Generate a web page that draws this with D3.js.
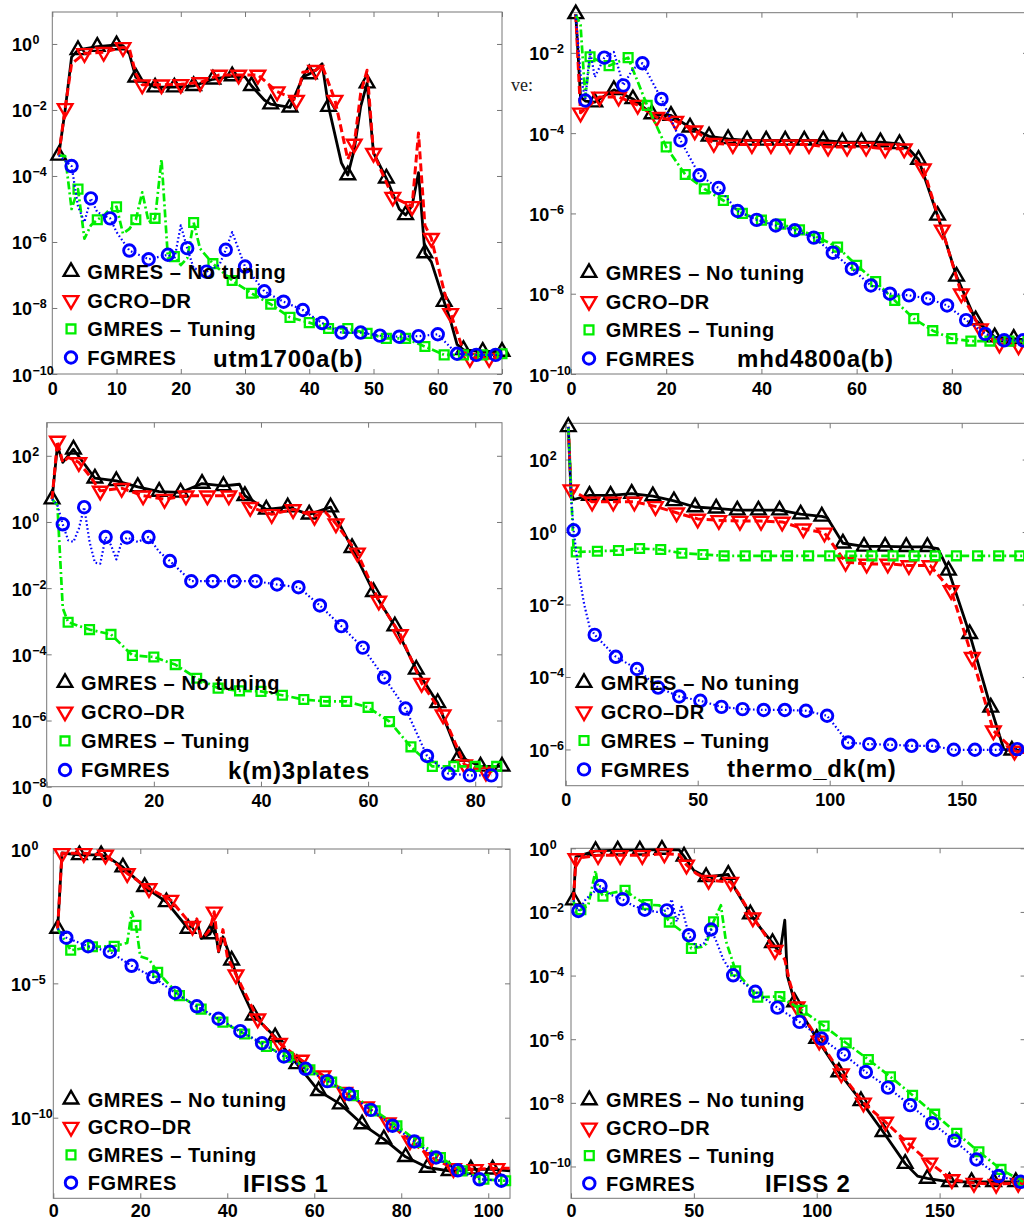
<!DOCTYPE html>
<html>
<head>
<meta charset="utf-8">
<script src="https://cdn.jsdelivr.net/npm/d3@7"></script>
<style>
  body { margin: 0; background: #fff; }
  svg { display: block; }
</style>
</head>
<body>
<svg id="chart" width="1024" height="1221"></svg>
<script>
const seriesNames = ["GMRES – No tuning", "GCRO–DR", "GMRES – Tuning", "FGMRES"];
const panelTitles = ["utm1700a(b)", "mhd4800a(b)", "k(m)3plates", "thermo_dk(m)", "IFISS 1", "IFISS 2"];

// tick values
const utmXTicks = [0, 10, 20, 30, 40, 50, 60, 70];
const mhdXTicks = [0, 20, 40, 60, 80];
const kmXTicks = [0, 20, 40, 60, 80];
const thermoXTicks = [0, 50, 100, 150];
const ifiss1XTicks = [0, 20, 40, 60, 80, 100];
const ifiss2XTicks = [0, 50, 100, 150];
const utmYTicks = [1, 1e-2, 1e-4, 1e-6, 1e-8, 1e-10];
const mhdYTicks = [1e-2, 1e-4, 1e-6, 1e-8, 1e-10];
const kmYTicks = [1e2, 1, 1e-2, 1e-4, 1e-6, 1e-8];
const thermoYTicks = [1e2, 1, 1e-2, 1e-4, 1e-6];
const ifiss1YTicks = [1, 1e-5, 1e-10];
const ifiss2YTicks = [1, 1e-2, 1e-4, 1e-6, 1e-8, 1e-10];

// utm1700a(b)  [iteration, residual]
const utmNoTune = [[1,4.2e-4],[2,1e-2],[3,0.4],[4,0.66],[7,0.83],[10,0.93],[11,0.89],[12,0.5],[13,0.098],[16,0.049],[19,0.049],[22,0.054],[25,0.085],[28,0.107],[30,0.1],[31,0.054],[33,0.02],[34,0.015],[37,0.012],[39,0.1],[40,0.123],[41,0.16],[42,0.25],[43,0.0126],[45,2.5e-4],[46,1.07e-4],[47,6.3e-4],[48,0.0126],[49,0.065],[50,5e-4],[52,8.5e-5],[54,1e-5],[55,6.6e-6],[56,1.26e-5],[57,1.26e-4],[58,4.6e-7],[59,2.5e-7],[61,1.55e-8],[62,4e-9],[63,7.9e-10],[64,5.4e-10],[67,4.8e-10],[70,4.8e-10]];
const utmGcro = [[1,4.2e-4],[2,0.0112],[3,0.25],[5,0.52],[8,0.56],[11,0.79],[12,0.71],[13,0.126],[14,0.058],[17,0.058],[20,0.06],[23,0.068],[26,0.115],[29,0.115],[32,0.115],[35,0.036],[38,0.02],[39,0.14],[41,0.16],[42,0.22],[44,0.02],[46,3.2e-4],[47,9.3e-4],[48,0.032],[49,0.16],[50,4.9e-4],[53,2.3e-5],[56,1.2e-5],[57,2e-3],[58,3.2e-6],[59,1.3e-6],[61,3.2e-8],[62,6.9e-9],[64,5e-10],[65,3e-10],[68,3e-10],[70,3.2e-10]];
const utmTune = [[1,4.2e-4],[2,4e-4],[3,1e-5],[4,4e-5],[5,1.26e-6],[6,3.2e-6],[7,4.7e-6],[8,6.3e-6],[9,1e-5],[10,1.17e-5],[11,1.8e-6],[12,2.5e-6],[13,4.7e-6],[14,3.2e-5],[15,4e-6],[16,5.2e-6],[17,3.2e-4],[18,3.2e-7],[19,3.6e-7],[20,2e-7],[21,3.2e-7],[22,3.9e-6],[23,6.3e-7],[25,2.2e-7],[28,6.8e-8],[31,2.8e-8],[34,1.3e-8],[37,5.2e-9],[40,3.6e-9],[43,2.4e-9],[46,2.4e-9],[49,1.7e-9],[52,1.2e-9],[55,1.2e-9],[58,6.8e-10],[61,3.8e-10],[64,3.8e-10],[67,3.8e-10],[70,4.1e-10]];
const utmFg = [[1,4.2e-4],[3,2e-4],[4,1.2e-5],[5,4e-6],[6,2.1e-5],[7,8e-6],[9,5.2e-6],[10,2e-6],[12,5.5e-7],[15,3e-7],[18,4.1e-7],[19,3e-7],[20,3.2e-6],[21,6.5e-7],[22,1.6e-7],[24,1.26e-7],[26,2e-7],[27,5.8e-7],[28,2e-6],[30,1.8e-7],[33,3.2e-8],[36,1.55e-8],[39,8.7e-9],[42,3.5e-9],[45,1.8e-9],[48,1.8e-9],[51,1.45e-9],[54,1.35e-9],[57,1.4e-9],[60,1.6e-9],[61,1e-9],[63,4.1e-10],[66,3.8e-10],[69,3.8e-10],[70,3.8e-10]];

// mhd4800a(b)
const mhdNoTune = [[1,0.093],[2,8e-4],[3,6.3e-4],[5,5.9e-4],[9,1.2e-3],[13,7.1e-4],[17,3e-4],[21,2.75e-4],[25,1.4e-4],[29,8.3e-5],[33,7.2e-5],[37,6.6e-5],[41,6.6e-5],[45,6.6e-5],[49,6.6e-5],[53,6.6e-5],[57,6e-5],[61,6e-5],[65,6e-5],[69,5.4e-5],[71,4e-5],[73,2.2e-5],[77,8.9e-7],[81,2.7e-8],[85,2.2e-9],[89,8.3e-10],[93,7.6e-10],[96,7e-10]];
const mhdGcro = [[1,0.093],[2,3.2e-4],[6,8e-4],[10,8e-4],[14,5e-4],[18,2.5e-4],[22,2e-4],[26,1.15e-4],[30,5.6e-5],[34,5.2e-5],[38,5.2e-5],[42,5.2e-5],[46,5.2e-5],[50,5.2e-5],[54,4.5e-5],[58,4.5e-5],[62,4.5e-5],[66,4.1e-5],[70,4.1e-5],[74,1.3e-5],[78,3.9e-7],[82,1e-8],[86,1.35e-9],[90,5.6e-10],[94,5.1e-10],[96,5e-10]];
const mhdTune = [[1,0.09],[2,0.05],[3,8e-4],[4,8e-3],[8,4.8e-3],[12,7.6e-3],[16,4.9e-4],[20,4.5e-5],[24,9.3e-6],[28,4.1e-6],[32,2.1e-6],[36,1e-6],[40,6.8e-7],[44,5.4e-7],[48,3.9e-7],[52,2.5e-7],[56,1.45e-7],[60,5.1e-8],[64,2e-8],[68,6.8e-9],[72,2.4e-9],[76,1.2e-9],[80,7.6e-10],[84,6.6e-10],[88,6.6e-10],[92,6.6e-10],[96,6.6e-10]];
const mhdFg = [[1,0.09],[2,3e-3],[3,6.5e-4],[4,0.0115],[5,2.5e-3],[7,7.6e-3],[9,0.0105],[11,1.55e-3],[13,4e-3],[15,5.5e-3],[19,7.1e-4],[23,6.6e-5],[27,8.9e-6],[31,4.3e-6],[35,1.15e-6],[39,6.9e-7],[43,5e-7],[47,3.8e-7],[51,2.5e-7],[55,1.05e-7],[59,4.2e-8],[63,1.6e-8],[67,1e-8],[71,9.1e-9],[75,7.6e-9],[79,5.1e-9],[83,2.2e-9],[87,1e-9],[91,6.9e-10],[95,6.9e-10]];

// k(m)3plates
const kmNoTune = [[1,4.9],[2,200],[3,63],[5,158],[9,21],[13,17.4],[17,11.5],[21,8.3],[25,7.8],[29,14.5],[33,12.3],[36,13.8],[37,6.2],[41,2.4],[45,2.8],[49,1.7],[53,2.8],[57,0.166],[61,7.8e-3],[65,7.1e-4],[69,3.5e-5],[73,3.4e-6],[77,8.1e-8],[81,4.1e-8],[85,4.1e-8]];
const kmGcro = [[1,4.9],[2,280],[3,63],[4,89],[6,63],[8,25],[10,8.7],[14,10.5],[18,6.2],[22,4.9],[26,6.2],[30,6.2],[34,6.2],[36,7.1],[38,2.8],[42,1.7],[46,2.4],[50,1.5],[52,2.0],[54,0.89],[58,0.117],[62,4.1e-3],[66,4e-4],[70,1.35e-5],[74,1.5e-6],[78,4.6e-8],[82,2.8e-8],[84,3.2e-8]];
const kmTune = [[1,4.9],[2,3.2],[3,2.5e-3],[4,9.3e-4],[8,5.6e-4],[12,4e-4],[16,9.3e-5],[20,8.3e-5],[24,4.9e-5],[28,1.9e-5],[32,9.5e-6],[36,7.9e-6],[40,7.6e-6],[44,5.8e-6],[48,4.3e-6],[52,3.8e-6],[56,3.8e-6],[60,2.5e-6],[64,9.3e-7],[68,1.6e-7],[72,4.1e-8],[76,4.1e-8],[80,4.1e-8],[84,4.1e-8]];
const kmFg = [[1,4.9],[2,3.2],[3,0.85],[4,0.28],[5,0.25],[6,0.63],[7,2.8],[8,0.25],[9,0.059],[10,0.055],[11,0.35],[12,0.2],[13,0.074],[14,0.25],[15,0.34],[17,0.25],[19,0.35],[21,0.126],[23,0.066],[27,0.0162],[31,0.0162],[35,0.0162],[39,0.0162],[43,0.0129],[47,0.0107],[51,3e-3],[55,7.1e-4],[59,1.6e-4],[63,2e-5],[67,2.3e-6],[71,8.5e-8],[75,2.5e-8],[79,2.2e-8],[83,2.2e-8]];

// thermo_dk(m)
const thermoNoTune = [[1,794],[2,12.6],[3,7.9],[9,10.2],[17,10.2],[25,11.5],[33,9.8],[41,7.2],[49,4.9],[57,4.5],[65,4.0],[73,4.0],[81,4.0],[89,3.1],[97,2.7],[99,2.5],[105,0.49],[113,0.4],[121,0.4],[129,0.39],[137,0.39],[141,0.35],[145,0.087],[153,1.55e-3],[161,1.45e-5],[166,1e-6],[169,9.5e-7],[175,9.5e-7]];
const thermoGcro = [[1,794],[2,14.8],[10,6.8],[18,6.8],[26,6.8],[34,5.1],[42,3.4],[50,2.3],[58,2.1],[66,2.0],[74,2.0],[82,1.9],[90,1.23],[98,0.95],[106,0.148],[114,0.132],[122,0.132],[130,0.12],[138,0.12],[146,0.0245],[154,3.5e-4],[162,3.3e-6],[170,9.1e-7],[175,7.9e-7]];
const thermoTune = [[1,794],[2,15.8],[3,0.32],[4,0.28],[12,0.295],[20,0.31],[28,0.35],[36,0.33],[44,0.26],[52,0.24],[60,0.22],[68,0.22],[76,0.22],[84,0.22],[92,0.22],[100,0.22],[108,0.22],[116,0.22],[124,0.22],[132,0.22],[140,0.22],[148,0.22],[156,0.22],[164,0.22],[172,0.22],[175,0.22]];
const thermoFg = [[1,794],[2,10],[3,1.12],[5,0.071],[7,0.01],[9,2.5e-3],[11,1.45e-3],[19,3.6e-4],[27,1.66e-4],[35,5.1e-5],[43,2.9e-5],[51,2.2e-5],[59,1.5e-5],[67,1.3e-5],[75,1.23e-5],[83,1.23e-5],[91,1.17e-5],[99,8.5e-6],[107,1.55e-6],[115,1.4e-6],[123,1.35e-6],[131,1.26e-6],[139,1.26e-6],[147,9.8e-7],[155,9.8e-7],[163,9.8e-7],[171,1.02e-6],[175,1e-6]];

// IFISS 1
const ifiss1NoTune = [[1,1.1e-3],[2,0.71],[6,0.6],[11,0.6],[13,0.45],[16,0.21],[21,0.039],[26,0.0107],[31,1.1e-3],[33,2.2e-3],[34,4.7e-4],[36,6.8e-4],[37,1.7e-3],[38,1.5e-4],[39,5.4e-4],[41,7.2e-5],[43,7.2e-6],[46,6.5e-7],[51,1e-7],[56,1e-8],[61,1e-9],[66,3.2e-10],[71,5.8e-11],[76,1.6e-11],[81,3.5e-12],[86,1.4e-12],[91,1.05e-12],[96,1.2e-12],[101,1.2e-12],[105,1.05e-12]];
const ifiss1Gcro = [[1,1.1e-3],[2,0.69],[7,0.69],[12,0.6],[17,0.123],[22,0.034],[27,0.0126],[32,1.35e-3],[33,2.5e-3],[34,5e-4],[35,6.3e-4],[36,1e-3],[37,4.6e-3],[38,1.6e-4],[39,1e-3],[40,1e-4],[42,2.1e-5],[47,4.8e-7],[52,6e-8],[57,1.4e-8],[62,3.7e-9],[67,8.9e-10],[72,2.6e-10],[77,6.6e-11],[82,1.38e-11],[87,3.3e-12],[92,1.3e-12],[97,1.2e-12],[102,1.3e-12],[105,1.3e-12]];
const ifiss1Tune = [[1,1.1e-3],[4,1.7e-4],[9,2.3e-4],[14,2.4e-4],[17,3.2e-4],[18,4.6e-3],[19,1.45e-3],[20,1e-4],[22,7.9e-5],[24,2.6e-5],[29,3.5e-6],[34,1.1e-6],[39,3.6e-7],[44,1.3e-7],[49,4.5e-8],[54,1.8e-8],[59,6e-9],[64,2.1e-9],[69,6.6e-10],[74,1.8e-10],[79,5e-11],[84,1.2e-11],[89,3.3e-12],[94,1.05e-12],[99,5.1e-13],[104,4.5e-13]];
const ifiss1Fg = [[1,1.1e-3],[3,5e-4],[8,2.4e-4],[13,1.5e-4],[18,4.5e-5],[23,1.7e-5],[28,4.4e-6],[33,1.4e-6],[38,4.8e-7],[43,1.66e-7],[48,5.9e-8],[53,1.9e-8],[58,6.6e-9],[63,2.3e-9],[68,7.6e-10],[73,1.95e-10],[78,5e-11],[83,1.3e-11],[88,3.3e-12],[93,1.1e-12],[98,5.1e-13],[103,4.5e-13]];

// IFISS 2
const ifiss2NoTune = [[1,0.0234],[2,0.54],[10,0.83],[19,0.87],[28,0.87],[37,0.91],[44,0.89],[46,0.56],[50,0.2],[55,0.126],[64,0.15],[67,0.05],[73,8.5e-3],[77,3.2e-3],[82,1.07e-3],[85,5e-4],[87,5.5e-3],[88,1e-4],[91,1.48e-5],[100,1.05e-6],[109,9.3e-8],[118,1.15e-8],[127,1.23e-9],[136,1.23e-10],[141,5e-11],[145,4.2e-11],[154,3.3e-11],[163,3.3e-11],[172,3.3e-11],[181,3.3e-11],[185,3.3e-11]];
const ifiss2Gcro = [[1,0.0234],[2,0.48],[11,0.6],[20,0.6],[29,0.6],[38,0.68],[44,0.63],[47,0.3],[51,0.16],[56,0.1],[65,0.087],[68,0.04],[74,6.6e-3],[78,2.5e-3],[83,6.3e-4],[85,5e-4],[87,3.2e-4],[89,6.3e-5],[92,1.05e-5],[101,8.9e-7],[110,8.3e-8],[119,1e-8],[128,2.5e-9],[137,5.5e-10],[146,1.3e-10],[155,3.9e-11],[164,3e-11],[173,2.8e-11],[182,3e-11],[185,3e-11]];
const ifiss2Tune = [[1,0.0234],[2,0.01],[4,0.0117],[7,0.016],[10,0.2],[11,0.063],[13,0.031],[17,0.04],[22,0.048],[26,0.028],[31,0.017],[36,0.016],[40,4.8e-3],[45,2.5e-3],[49,7.1e-4],[53,7.9e-4],[55,1e-3],[58,4.9e-3],[61,0.0162],[63,1.26e-3],[67,1.4e-4],[76,2.1e-5],[85,2.2e-5],[94,8.1e-6],[103,2.6e-6],[112,7.6e-7],[121,2.3e-7],[130,6.6e-8],[139,1.74e-8],[148,4.4e-9],[157,1.1e-9],[166,2.9e-10],[175,8.1e-11],[184,3.3e-11]];
const ifiss2Fg = [[1,0.0234],[3,0.0107],[6,0.025],[12,0.065],[16,0.035],[21,0.025],[25,0.016],[30,0.0117],[35,0.01],[39,0.0112],[41,0.025],[43,5e-3],[45,0.0145],[48,1.86e-3],[51,8e-4],[54,1e-3],[57,2.8e-3],[59,1.26e-3],[62,3.2e-4],[66,1.02e-4],[75,3.1e-5],[84,9.8e-6],[93,3.5e-6],[102,1.05e-6],[111,3.3e-7],[120,9.3e-8],[129,3e-8],[138,8.5e-9],[147,2.3e-9],[156,6.5e-10],[165,1.66e-10],[174,5e-11],[183,3.3e-11]];

const font = "'Liberation Sans', Arial, Helvetica, sans-serif";
const frameColour = "#777";

// black, red, green, blue  (marker start index within each panel)
const styles = [
  { colour: "#000", dash: null, width: 2.8, symbol: d3.symbolTriangle, rotate: 0, start: 1, size: 92, sw: 2.4 },
  { colour: "#f00", dash: "8,4", width: 3, symbol: d3.symbolTriangle, rotate: 180, start: 2, size: 92, sw: 2.4 },
  { colour: "#0e0", dash: "8,3,2,3", width: 2.7, symbol: d3.symbolSquare, rotate: 0, start: 4, size: 78, sw: 2.3 },
  { colour: "#00f", dash: "1.6,2.4", width: 2.2, symbol: d3.symbolCircle, rotate: 0, start: 3, size: 104, sw: 2.9 }
];

const panels = [
  { title: panelTitles[0], box: [52.3, 12, 502, 374], xDom: [0, 70], yDom: [1e-10, 9.3], xTicks: utmXTicks, yTicks: utmYTicks, labelX: 32, step: 3, pad: 8,
    data: [utmNoTune, utmGcro, utmTune, utmFg], legend: [71, 87.3, 271.7, 28.6], titleAt: [213, 358] },
  { title: panelTitles[1], box: [571, 12.7, 1028, 374], xDom: [0, 96], yDom: [1e-10, 0.1], xTicks: mhdXTicks, yTicks: mhdYTicks, labelX: 549.3, step: 4, pad: 8,
    data: [mhdNoTune, mhdGcro, mhdTune, mhdFg], legend: [589, 605.7, 272.7, 28.6], titleAt: [737, 358] },
  { title: panelTitles[2], box: [46.7, 422.7, 502, 786.7], xDom: [0, 85], yDom: [1e-8, 1e3], xTicks: kmXTicks, yTicks: kmYTicks, labelX: 31.7, step: 4, pad: 8,
    data: [kmNoTune, kmGcro, kmTune, kmFg], legend: [65, 81, 682.7, 29.1], titleAt: [228, 770] },
  { title: panelTitles[3], box: [565.7, 423.3, 1027.7, 785.7], xDom: [0, 175], yDom: [1e-7, 1e3], xTicks: thermoXTicks, yTicks: thermoYTicks, labelX: 549.3, step: 8, pad: 8,
    data: [thermoNoTune, thermoGcro, thermoTune, thermoFg], legend: [584, 600.7, 682.7, 28.9], titleAt: [727, 768] },
  { title: panelTitles[4], box: [53.3, 849, 510, 1198.3], xDom: [0, 105], yDom: [1e-13, 1], xTicks: ifiss1XTicks, yTicks: ifiss1YTicks, labelX: 31, step: 5, pad: 5.5,
    data: [ifiss1NoTune, ifiss1Gcro, ifiss1Tune, ifiss1Fg], legend: [71, 87.7, 1099.3, 27.8], titleAt: [243, 1183] },
  { title: panelTitles[5], box: [571, 848.3, 1025.6, 1198.3], xDom: [0, 185], yDom: [1e-11, 1], xTicks: ifiss2XTicks, yTicks: ifiss2YTicks, labelX: 549.3, step: 9, pad: 5.5,
    data: [ifiss2NoTune, ifiss2Gcro, ifiss2Tune, ifiss2Fg], legend: [589.3, 606, 1100, 27.8], titleAt: [765, 1183] }
];

const svg = d3.select("#chart");

// stray axis-label fragment peeking out between the top panels
svg.append("text")
  .attr("x", 511).attr("y", 91)
  .attr("font-family", "'Liberation Serif', 'Times New Roman', serif")
  .attr("font-size", 18).attr("fill", "#222")
  .text("ve:");

const drawMarker = (g, i, cx, cy) => {
  const st = styles[i];
  g.append("path")
    .attr("d", d3.symbol(st.symbol, st.size)())
    .attr("transform", `translate(${cx},${cy}) rotate(${st.rotate})`)
    .attr("fill", "none")
    .attr("stroke", st.colour)
    .attr("stroke-width", st.sw);
};

panels.forEach(p => {
  const [l, t, r, b] = p.box;
  const x = d3.scaleLinear().domain(p.xDom).range([l, r]);
  const y = d3.scaleLog().domain(p.yDom).range([b, t]);
  const g = svg.append("g");

  g.append("rect")
    .attr("x", l).attr("y", t).attr("width", r - l).attr("height", b - t)
    .attr("fill", "none").attr("stroke", frameColour).attr("stroke-width", 1);

  const styleAxis = (ax) => {
    ax.select(".domain").remove();
    ax.selectAll("line").attr("stroke", frameColour);
    ax.attr("font-family", font).attr("font-size", 18).attr("font-weight", "bold").attr("color", "#000");
  };

  g.append("g").attr("transform", `translate(0,${b})`)
    .call(d3.axisBottom(x).tickValues(p.xTicks).tickSizeInner(-5).tickSizeOuter(0).tickPadding(p.pad).tickFormat(d3.format("d")))
    .call(styleAxis);
  g.append("g").attr("transform", `translate(0,${t})`)
    .call(d3.axisTop(x).tickValues(p.xTicks).tickSizeInner(-5).tickSizeOuter(0).tickFormat(() => ""))
    .call(styleAxis);
  g.append("g").attr("transform", `translate(${l},0)`)
    .call(d3.axisLeft(y).tickValues(p.yTicks).tickSizeInner(-5).tickSizeOuter(0).tickFormat(() => ""))
    .call(styleAxis);
  g.append("g").attr("transform", `translate(${r},0)`)
    .call(d3.axisRight(y).tickValues(p.yTicks).tickSizeInner(-5).tickSizeOuter(0).tickFormat(() => ""))
    .call(styleAxis);

  // y labels as 10^n
  const yl = g.append("g").attr("font-family", font).attr("font-weight", "bold").attr("fill", "#000");
  p.yTicks.forEach(v => {
    const e = Math.round(Math.log10(v));
    yl.append("text").attr("x", p.labelX).attr("y", y(v) + 7.5)
      .attr("text-anchor", "end").attr("font-size", 18).text("10");
    yl.append("text").attr("x", p.labelX + 0.5).attr("y", y(v) + 0.5)
      .attr("font-size", 12.5).text(e < 0 ? "\u2212" + Math.abs(e) : String(e));
  });

  // series: line then markers
  p.data.forEach((series, i) => {
    const st = styles[i];
    const line = d3.line().x(d => x(d[0])).y(d => y(d[1]));
    g.append("path")
      .attr("d", line(series))
      .attr("fill", "none")
      .attr("stroke", st.colour)
      .attr("stroke-width", st.width)
      .attr("stroke-dasharray", st.dash)
      .attr("stroke-linejoin", "round");
    const mg = g.append("g");
    series
      .filter(d => d[0] >= st.start && (d[0] - st.start) % p.step === 0)
      .forEach(d => drawMarker(mg, i, x(d[0]), y(d[1])));
  });

  // legend
  const [mx, tx, ly, gap] = p.legend;
  const lg = g.append("g");
  seriesNames.forEach((name, i) => {
    const cy = ly + i * gap;
    drawMarker(lg, i, mx, cy);
    lg.append("text").attr("x", tx).attr("y", cy + 7.2)
      .attr("font-family", font).attr("font-weight", "bold").attr("font-size", 20)
      .attr("letter-spacing", 0.6).attr("fill", "#000")
      .text(name);
  });

  g.append("text")
    .attr("x", p.titleAt[0]).attr("y", p.titleAt[1] + 8.8)
    .attr("font-family", font).attr("font-weight", "bold").attr("font-size", 24)
    .attr("letter-spacing", 0.8).attr("fill", "#000")
    .text(p.title);
});
</script>
</body>
</html>
